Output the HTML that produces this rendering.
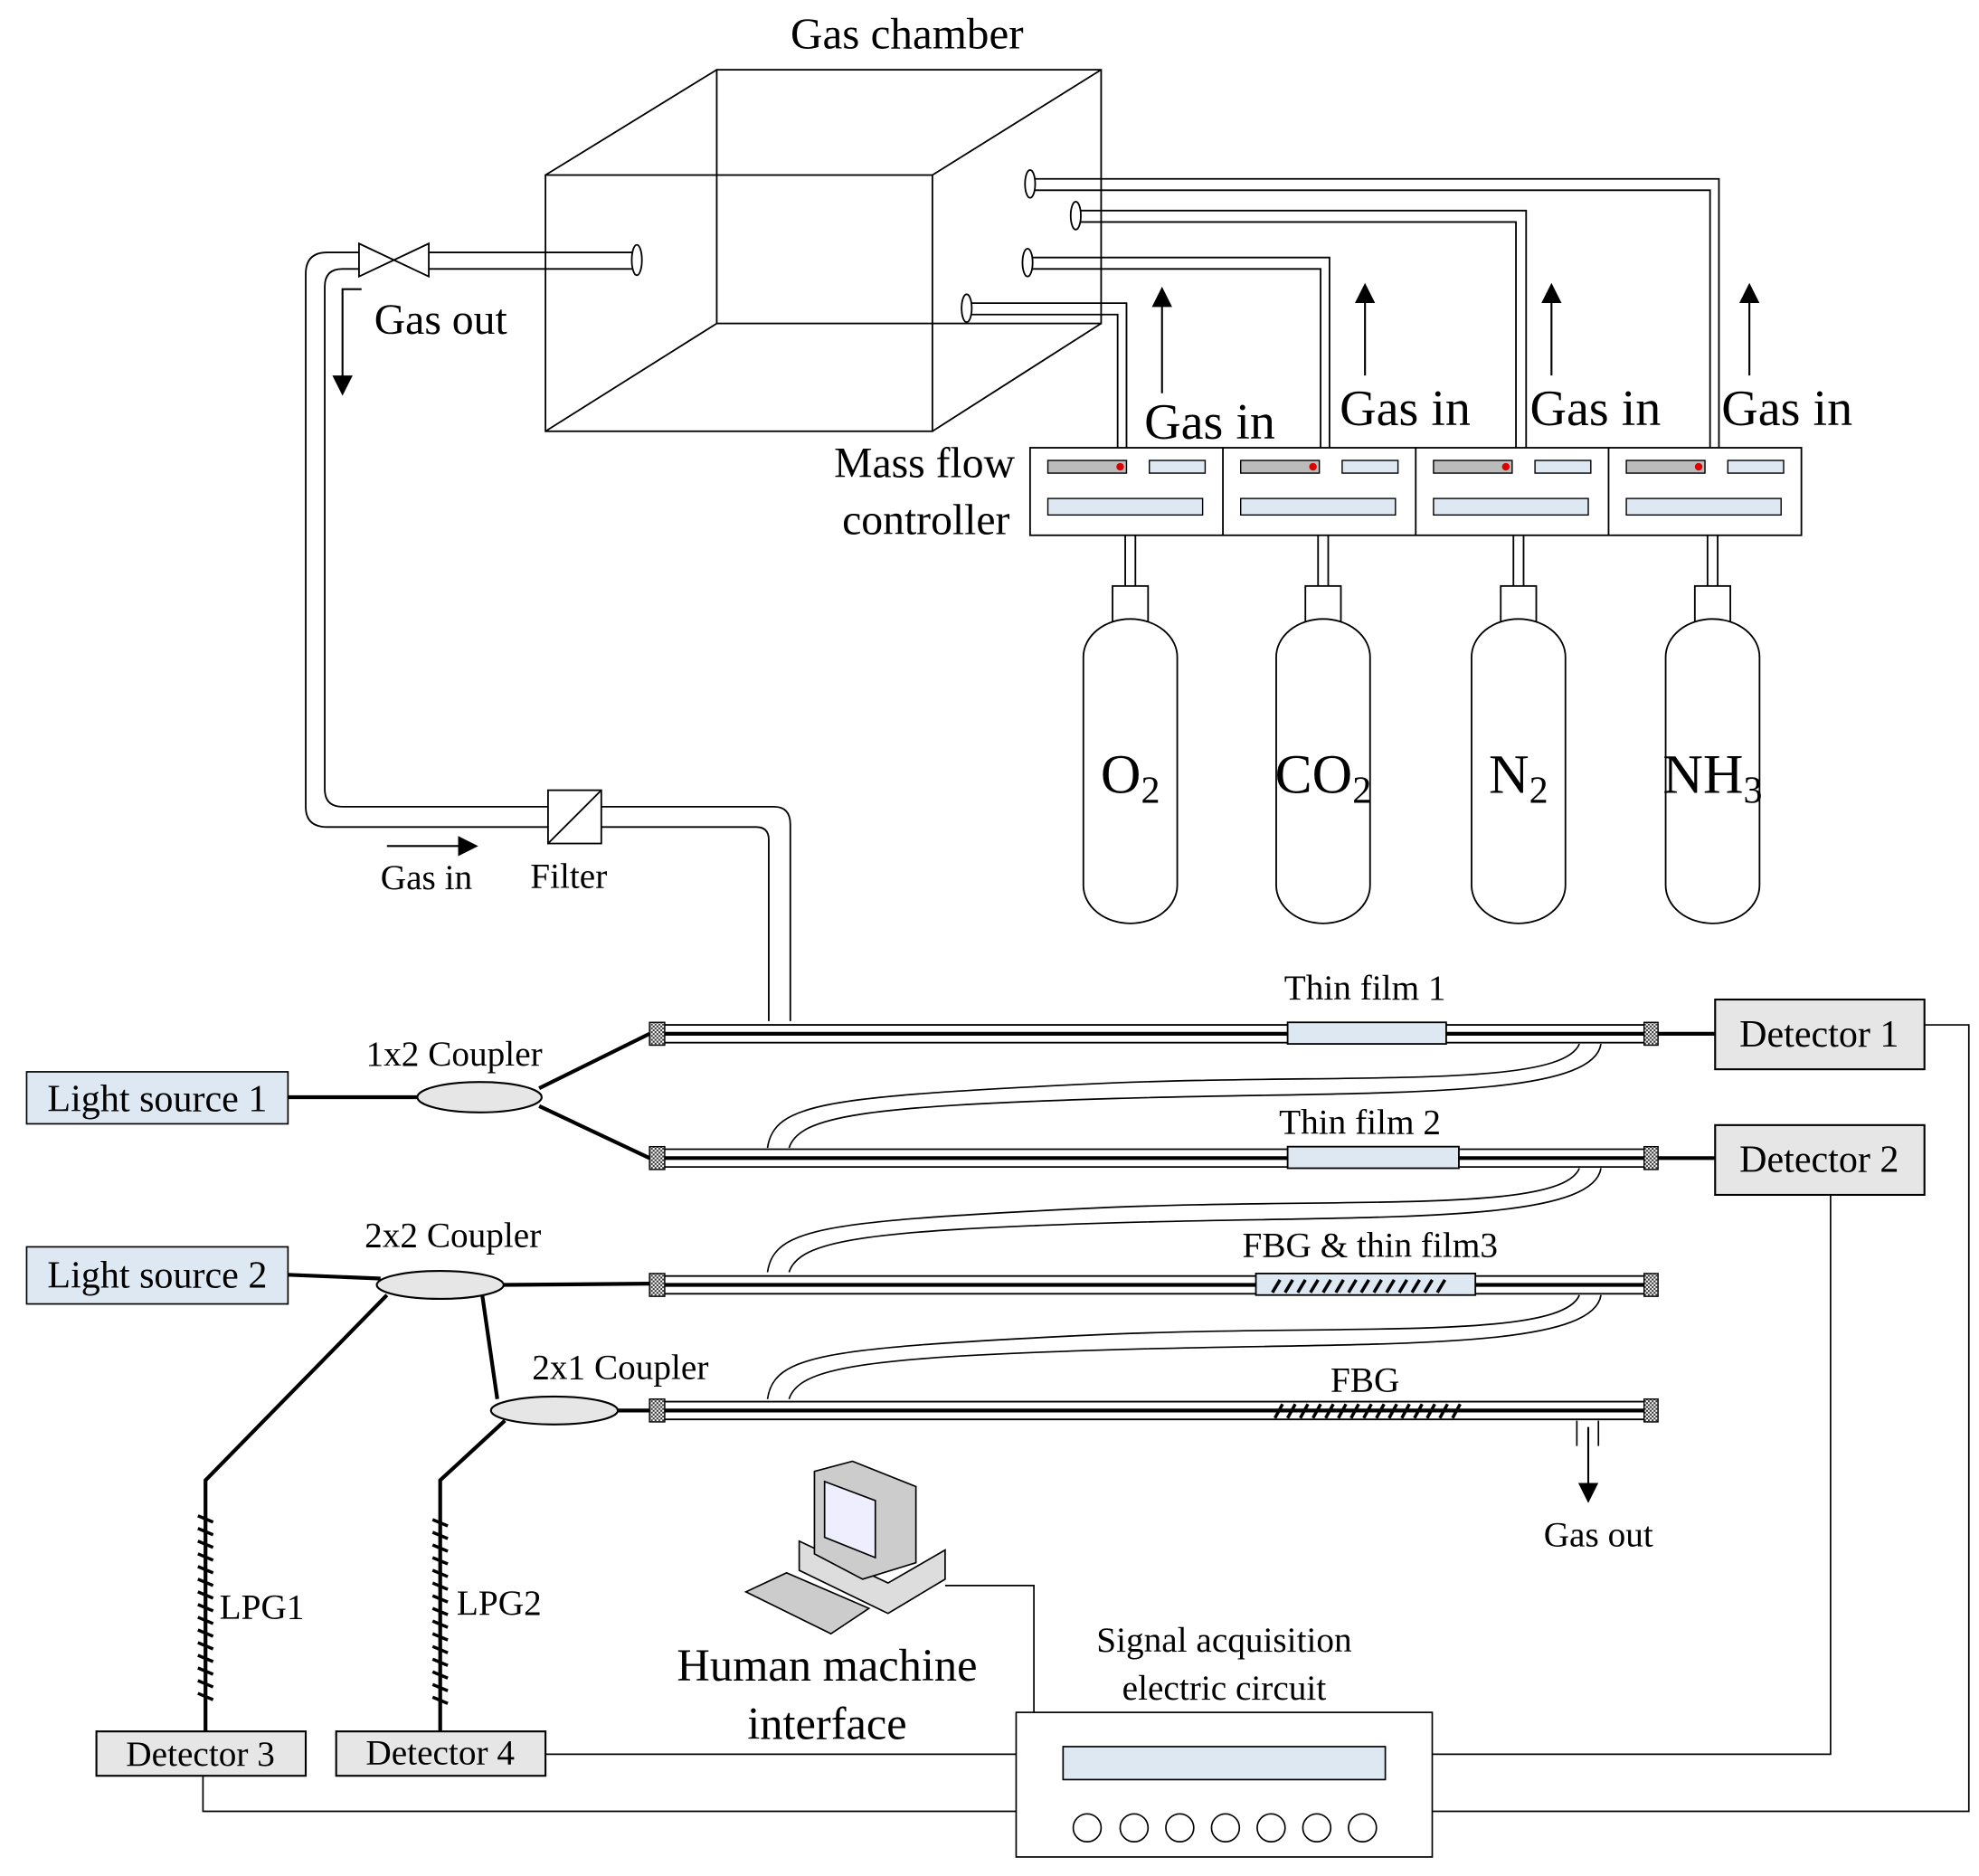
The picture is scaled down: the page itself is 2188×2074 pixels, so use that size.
<!DOCTYPE html>
<html><head><meta charset="utf-8"><style>html,body{margin:0;padding:0;background:#fff}svg{display:block}svg text{font-family:"Liberation Serif",serif}</style></head>
<body>
<svg width="2188" height="2074" viewBox="0 0 1560 1479" preserveAspectRatio="none" xmlns="http://www.w3.org/2000/svg" style="font-family:'Liberation Serif',serif">
<defs>
<pattern id="hat" width="3" height="3" patternUnits="userSpaceOnUse"><rect width="3" height="3" fill="#fff"/><rect width="1.5" height="1.5" fill="#333"/><rect x="1.5" y="1.5" width="1.5" height="1.5" fill="#333"/></pattern>
<marker id="ar2" markerWidth="16" markerHeight="22" refX="14" refY="8" orient="auto" markerUnits="userSpaceOnUse"><path d="M0,0 L16,8 L0,16 z" fill="#000"/></marker>
</defs>
<g fill="none" stroke="#000" stroke-width="1.3">
<rect x="430" y="138" width="305" height="202"/>
<rect x="565" y="55" width="303" height="200"/>
<line x1="430" y1="138" x2="565" y2="55"/><line x1="735" y1="138" x2="868" y2="55"/>
<line x1="735" y1="340" x2="868" y2="255"/><line x1="430" y1="340" x2="565" y2="255"/>
<path d="M500,199 H338 M500,212 H338"/>
<path d="M283,199 H258 Q241,199 241,216 V636 Q241,652 258,652 H432"/>
<path d="M283,212 H270 Q256,212 256,226 V622 Q256,636 270,636 H432"/>
<path d="M474,636 H610 Q623,636 623,650 V805"/>
<path d="M474,652 H596 Q606,652 606,662 V805"/>
<path d="M283,192 L338,218 L338,192 L283,218 Z" fill="#fff"/>
<rect x="432" y="623" width="42" height="42" fill="#fff"/><line x1="432" y1="665" x2="474" y2="623"/>
<ellipse cx="502" cy="205" rx="4" ry="12" fill="#fff"/>
<path d="M812,141 H1355 V353 M812,150 H1348 V353"/>
<path d="M848,166 H1203 V353 M848,175 H1195 V353"/>
<path d="M810,203 H1048 V353 M810,212 H1041 V353"/>
<path d="M762,239 H888 V353 M762,248 H881 V353"/>
<ellipse cx="812" cy="145" rx="4" ry="11" fill="#fff"/>
<ellipse cx="848" cy="170" rx="4" ry="11" fill="#fff"/>
<ellipse cx="810" cy="207" rx="4" ry="11" fill="#fff"/>
<ellipse cx="762" cy="243" rx="4" ry="11" fill="#fff"/>
<path d="M285,228 H270 V310" marker-end="url(#ar2)" stroke-width="1.5"/>
<path d="M305,667 H375" marker-end="url(#ar2)" stroke-width="1.5"/>
<g stroke-width="1.5"><path d="M916,310 V228" marker-end="url(#ar2)"/><path d="M1076,296 V225" marker-end="url(#ar2)"/><path d="M1223,296 V225" marker-end="url(#ar2)"/><path d="M1379,296 V225" marker-end="url(#ar2)"/></g>
<rect x="812" y="353" width="608" height="69" fill="#fff"/>
<line x1="964" y1="353" x2="964" y2="422"/><line x1="1116" y1="353" x2="1116" y2="422"/><line x1="1268" y1="353" x2="1268" y2="422"/>
</g>
<g stroke="#000" stroke-width="1">
<g id="u"><rect x="826" y="363" width="62" height="10" fill="#bbb"/><circle cx="883" cy="368" r="3" fill="#d00" stroke="none"/><rect x="906" y="363" width="44" height="10" fill="#dde8f3"/><rect x="826" y="393" width="122" height="13" fill="#dde8f3"/></g>
<use href="#u" x="152"/><use href="#u" x="304"/><use href="#u" x="456"/>
</g>
<g fill="#fff" stroke="#000" stroke-width="1.3">
<g id="b"><path d="M887,422 V462 M895,422 V462" fill="none"/><rect x="877" y="462" width="28" height="28"/><rect x="854" y="488" width="74" height="240" rx="37" ry="30"/></g>
<use href="#b" x="152"/><use href="#b" x="306"/><use href="#b" x="459"/>
</g>
<g font-size="44" text-anchor="middle">
<text x="891" y="625">O<tspan font-size="30" dy="8">2</tspan></text>
<text x="1043" y="625">CO<tspan font-size="30" dy="8">2</tspan></text>
<text x="1197" y="625">N<tspan font-size="30" dy="8">2</tspan></text>
<text x="1350" y="625">NH<tspan font-size="30" dy="8">3</tspan></text>
</g>
<g id="f" stroke="#000">
<line x1="518" y1="808" x2="1300" y2="808" stroke-width="1.3"/>
<line x1="518" y1="822" x2="1300" y2="822" stroke-width="1.3"/>
<line x1="518" y1="815" x2="1300" y2="815" stroke-width="3"/>
<rect x="512" y="806" width="12" height="18" fill="url(#hat)" stroke-width="1"/>
<rect x="1296" y="806" width="11" height="18" fill="url(#hat)" stroke-width="1"/>
</g>
<use href="#f" y="98"/><use href="#f" y="198"/><use href="#f" y="297"/>
<rect x="1015" y="806" width="125" height="17" fill="#dde8f3" stroke="#000" stroke-width="1.3"/>
<rect x="1015" y="904" width="135" height="17" fill="#dde8f3" stroke="#000" stroke-width="1.3"/>
<rect x="990" y="1004" width="173" height="17" fill="#dde8f3" stroke="#000" stroke-width="1.3"/>
<g stroke="#000" stroke-width="2.5">
<path d="M1003,1019 l6,-10 m4,10 l6,-10 m4,10 l6,-10 m4,10 l6,-10 m4,10 l6,-10 m4,10 l6,-10 m4,10 l6,-10 m4,10 l6,-10 m4,10 l6,-10 m4,10 l6,-10 m4,10 l6,-10 m4,10 l6,-10 m4,10 l6,-10 m4,10 l6,-10"/>
<path d="M1005,1118 l6,-11 m4,11 l6,-11 m4,11 l6,-11 m4,11 l6,-11 m4,11 l6,-11 m4,11 l6,-11 m4,11 l6,-11 m4,11 l6,-11 m4,11 l6,-11 m4,11 l6,-11 m4,11 l6,-11 m4,11 l6,-11 m4,11 l6,-11 m4,11 l6,-11 m4,11 l6,-11"/>
<path d="M156,1195 l12,5 m-12,5 l12,5 m-12,5 l12,5 m-12,5 l12,5 m-12,5 l12,5 m-12,5 l12,5 m-12,5 l12,5 m-12,5 l12,5 m-12,5 l12,5 m-12,5 l12,5 m-12,5 l12,5 m-12,5 l12,5 m-12,5 l12,5 m-12,5 l12,5 m-12,5 l12,5"/>
<path d="M341,1198 l12,5 m-12,5 l12,5 m-12,5 l12,5 m-12,5 l12,5 m-12,5 l12,5 m-12,5 l12,5 m-12,5 l12,5 m-12,5 l12,5 m-12,5 l12,5 m-12,5 l12,5 m-12,5 l12,5 m-12,5 l12,5 m-12,5 l12,5 m-12,5 l12,5 m-12,5 l12,5"/>
</g>
<g fill="none" stroke="#000" stroke-width="1.2">
<g id="s"><path d="M1245,823 C1230,860 1050,845 850,855 C650,865 610,870 605,905"/><path d="M1262,823 C1255,868 1080,860 880,866 C680,872 630,880 622,905"/></g>
<use href="#s" y="98"/><use href="#s" y="198"/>
<path d="M1243,1120 V1140 M1260,1120 V1140"/>
<path d="M1252,1125 V1183" marker-end="url(#ar2)" stroke-width="1.5"/>
</g>
<g stroke="#000" stroke-width="3" fill="none">
<line x1="227" y1="865" x2="330" y2="865"/><line x1="425" y1="858" x2="512" y2="815"/><line x1="425" y1="872" x2="512" y2="913"/>
<line x1="1307" y1="815" x2="1352" y2="815"/><line x1="1307" y1="913" x2="1352" y2="913"/>
<line x1="227" y1="1005" x2="300" y2="1008"/><line x1="397" y1="1013" x2="512" y2="1012"/>
<line x1="380" y1="1020" x2="392" y2="1103"/><line x1="487" y1="1112" x2="512" y2="1112"/>
<path d="M305,1021 L162,1167 V1365"/><path d="M398,1120 L347,1167 V1365"/>
</g>
<g fill="#e6e6e6" stroke="#000" stroke-width="1.5">
<ellipse cx="378" cy="865" rx="49" ry="12"/><ellipse cx="347" cy="1013" rx="50" ry="11"/><ellipse cx="437" cy="1112" rx="50" ry="11"/>
<rect x="1352" y="788" width="165" height="55"/><rect x="1352" y="887" width="165" height="55"/>
<rect x="76" y="1365" width="165" height="35"/><rect x="265" y="1365" width="165" height="35"/>
</g>
<g fill="#dde8f3" stroke="#000" stroke-width="1.2"><rect x="21" y="845" width="206" height="41"/><rect x="21" y="983" width="206" height="45"/></g>
<g fill="none" stroke="#000" stroke-width="1.2">
<path d="M745,1250 H815 V1350"/><path d="M430,1383 H801"/><path d="M1129,1383 H1443 V942"/>
<path d="M1517,808 H1552 V1428 H1129"/><path d="M160,1400 V1428 H801"/>
<rect x="801" y="1350" width="328" height="114" fill="#fff"/>
<rect x="838" y="1377" width="254" height="26" fill="#dde8f3"/>
<circle cx="857" cy="1441" r="11"/><circle cx="894" cy="1441" r="11"/><circle cx="930" cy="1441" r="11"/><circle cx="966" cy="1441" r="11"/><circle cx="1002" cy="1441" r="11"/><circle cx="1038" cy="1441" r="11"/><circle cx="1074" cy="1441" r="11"/>
</g>
<g stroke="#000" stroke-width="1.2">
<path d="M630,1215 L700,1248 L745,1222 L745,1245 L700,1272 L630,1238 Z" fill="#ddd"/>
<path d="M642,1160 L672,1152 L722,1172 L722,1232 L680,1245 L642,1225 Z" fill="#ccc"/>
<path d="M650,1168 L690,1183 L690,1228 L650,1212 Z" fill="#eef"/>
<path d="M588,1255 L620,1240 L685,1268 L655,1288 Z" fill="#ccc"/>
</g>
<g font-size="34" fill="#000">
<text x="715" y="38" text-anchor="middle" font-size="35">Gas chamber</text>
<text x="295" y="263">Gas out</text>
<text x="800" y="376" text-anchor="end">Mass flow</text>
<text x="796" y="421" text-anchor="end">controller</text>
<g font-size="40"><text x="902" y="346">Gas in</text><text x="1056" y="335">Gas in</text><text x="1206" y="335">Gas in</text><text x="1357" y="335">Gas in</text></g>
<g font-size="28"><text x="300" y="701">Gas in</text><text x="418" y="700">Filter</text>
<text x="1076" y="788" text-anchor="middle">Thin film 1</text><text x="1072" y="894" text-anchor="middle">Thin film 2</text>
<text x="1080" y="991" text-anchor="middle">FBG &amp; thin film3</text><text x="1076" y="1097" text-anchor="middle">FBG</text>
<text x="358" y="840" text-anchor="middle">1x2 Coupler</text><text x="357" y="983" text-anchor="middle">2x2 Coupler</text><text x="489" y="1087" text-anchor="middle">2x1 Coupler</text>
<text x="173" y="1276">LPG1</text><text x="360" y="1273">LPG2</text>
<text x="1260" y="1219" text-anchor="middle">Gas out</text>
<text x="965" y="1302" text-anchor="middle">Signal acquisition</text><text x="965" y="1340" text-anchor="middle">electric circuit</text>
<text x="158" y="1392" text-anchor="middle">Detector 3</text><text x="347" y="1391" text-anchor="middle">Detector 4</text>
</g>
<g font-size="30"><text x="1434" y="825" text-anchor="middle">Detector 1</text><text x="1434" y="924" text-anchor="middle">Detector 2</text>
<text x="124" y="876" text-anchor="middle">Light source 1</text><text x="124" y="1015" text-anchor="middle">Light source 2</text></g>
<g font-size="36"><text x="652" y="1325" text-anchor="middle">Human machine</text><text x="652" y="1371" text-anchor="middle">interface</text></g>
</g>
</svg>
</body></html>
